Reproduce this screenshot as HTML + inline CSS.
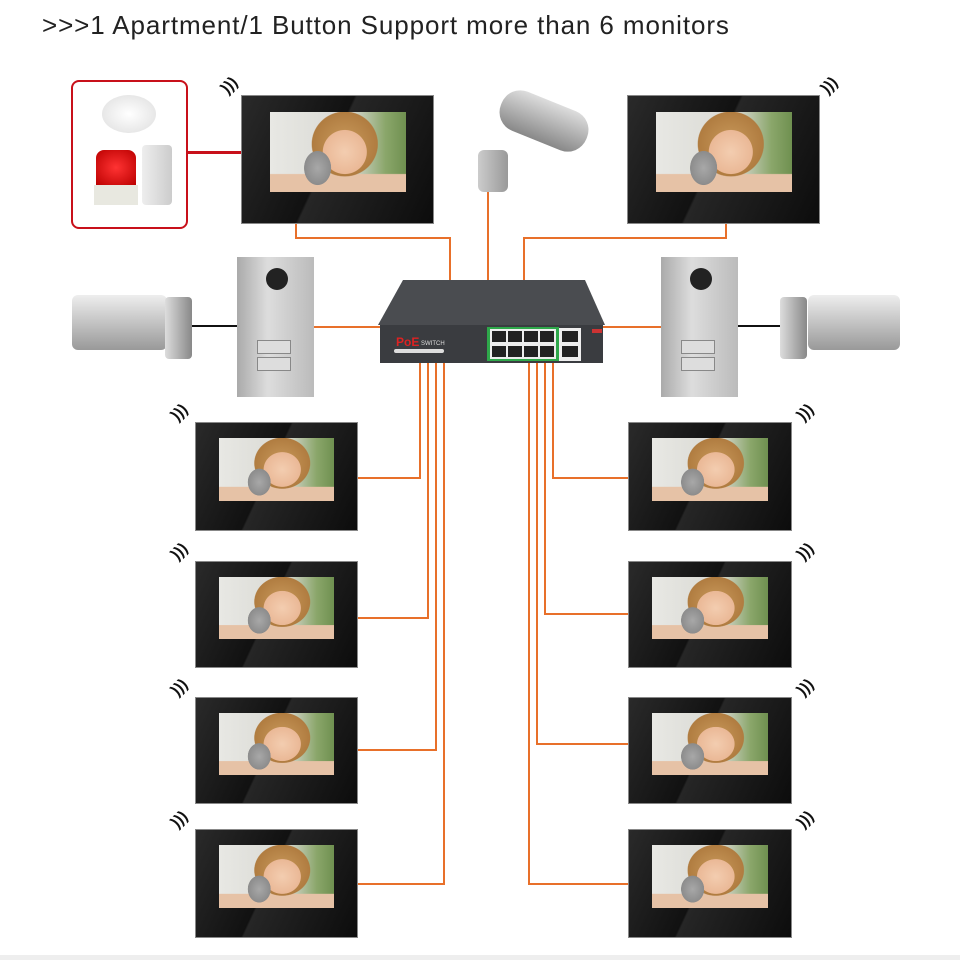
<!DOCTYPE html>
<html><head><meta charset="utf-8"><style>
body{margin:0;width:960px;height:960px;background:#fff;position:relative;overflow:hidden;font-family:"Liberation Sans",sans-serif}
.a{position:absolute}
.mon{position:absolute;background:linear-gradient(115deg,#2a2a2a 0%,#111 45%,#262626 46%,#0c0c0c 100%);border:1px solid #888;box-sizing:border-box}
.scr{position:absolute;left:14.5%;top:14%;width:71%;height:59%;
background:
radial-gradient(ellipse 14% 30% at 35% 70%,#a8a8a8 0%,#8c8c8c 70%,transparent 72%),
radial-gradient(ellipse 20% 34% at 55% 50%,#f3cdb0 0%,#eab896 80%,transparent 82%),
radial-gradient(ellipse 30% 50% at 55% 40%,#c99a5c 0%,#b07c40 80%,transparent 82%),
linear-gradient(0deg,#e6c2a6 0%,#e6c2a6 22%,transparent 23%),
linear-gradient(90deg,#e8e8e4 0%,#d8d8d2 60%,#8aa66a 85%,#6f9050 100%)}
.ln{position:absolute;background:#e8702a}
.wf{position:absolute;font-size:16px;font-weight:bold;color:#111;line-height:1;transform:rotate(-45deg)}
</style></head><body>
<div class="a" style="left:42px;top:10px;font-size:26px;color:#222;letter-spacing:0.9px;white-space:nowrap">&gt;&gt;&gt;1 Apartment/1 Button Support more than 6 monitors</div>

<div class="ln" style="left:188px;top:151px;width:53px;height:3px;background:#c8101a"></div>
<div class="ln" style="left:295px;top:224px;width:2px;height:15px"></div>
<div class="ln" style="left:295px;top:237px;width:156px;height:2px"></div>
<div class="ln" style="left:449px;top:237px;width:2px;height:44px"></div>
<div class="ln" style="left:487px;top:192px;width:2px;height:89px"></div>
<div class="ln" style="left:725px;top:224px;width:2px;height:15px"></div>
<div class="ln" style="left:523px;top:237px;width:204px;height:2px"></div>
<div class="ln" style="left:523px;top:237px;width:2px;height:44px"></div>
<div class="ln" style="left:314px;top:326px;width:66px;height:2px"></div>
<div class="ln" style="left:603px;top:326px;width:58px;height:2px"></div>
<div class="ln" style="left:192px;top:325px;width:46px;height:2px;background:#111"></div>
<div class="ln" style="left:738px;top:325px;width:44px;height:2px;background:#111"></div>

<div class="ln" style="left:419px;top:363px;width:2px;height:116px"></div>
<div class="ln" style="left:358px;top:477px;width:63px;height:2px"></div>
<div class="ln" style="left:427px;top:363px;width:2px;height:256px"></div>
<div class="ln" style="left:358px;top:617px;width:71px;height:2px"></div>
<div class="ln" style="left:435px;top:363px;width:2px;height:388px"></div>
<div class="ln" style="left:358px;top:749px;width:79px;height:2px"></div>
<div class="ln" style="left:443px;top:363px;width:2px;height:522px"></div>
<div class="ln" style="left:358px;top:883px;width:87px;height:2px"></div>

<div class="ln" style="left:552px;top:363px;width:2px;height:116px"></div>
<div class="ln" style="left:552px;top:477px;width:77px;height:2px"></div>
<div class="ln" style="left:544px;top:363px;width:2px;height:252px"></div>
<div class="ln" style="left:544px;top:613px;width:85px;height:2px"></div>
<div class="ln" style="left:536px;top:363px;width:2px;height:382px"></div>
<div class="ln" style="left:536px;top:743px;width:93px;height:2px"></div>
<div class="ln" style="left:528px;top:363px;width:2px;height:522px"></div>
<div class="ln" style="left:528px;top:883px;width:101px;height:2px"></div>

<div class="a" style="left:71px;top:80px;width:117px;height:149px;border:2px solid #c8101a;border-radius:8px;box-sizing:border-box"></div>
<div class="a" style="left:102px;top:95px;width:54px;height:38px;border-radius:50%;background:radial-gradient(#fff,#ddd)"></div>
<div class="a" style="left:96px;top:150px;width:40px;height:35px;border-radius:8px 8px 0 0;background:radial-gradient(#f33,#b00)"></div>
<div class="a" style="left:94px;top:185px;width:44px;height:20px;background:#e8e8e0"></div>
<div class="a" style="left:142px;top:145px;width:30px;height:60px;border-radius:4px;background:linear-gradient(90deg,#eee,#ccc)"></div>

<div class="a" style="left:498px;top:100px;width:92px;height:42px;border-radius:20px;background:linear-gradient(#ddd,#888);transform:rotate(22deg)"></div>
<div class="a" style="left:478px;top:150px;width:30px;height:42px;border-radius:6px;background:linear-gradient(90deg,#ccc,#999)"></div>

<div class="mon" style="left:241px;top:95px;width:193px;height:129px"></div>
<div class="mon" style="left:627px;top:95px;width:193px;height:129px"></div>
<div class="a" style="left:270px;top:112px;width:136px;height:80px"><div class="scr" style="left:0;top:0;width:100%;height:100%"></div></div>
<div class="a" style="left:656px;top:112px;width:136px;height:80px"><div class="scr" style="left:0;top:0;width:100%;height:100%"></div></div>

<div class="a" style="left:237px;top:257px;width:77px;height:140px;background:linear-gradient(90deg,#aaa,#ddd 40%,#bbb)"></div>
<div class="a" style="left:266px;top:268px;width:22px;height:22px;border-radius:50%;background:#222"></div>
<div class="a" style="left:257px;top:340px;width:32px;height:12px;background:#ddd;border:1px solid #888"></div>
<div class="a" style="left:257px;top:357px;width:32px;height:12px;background:#ddd;border:1px solid #888"></div>
<div class="a" style="left:661px;top:257px;width:77px;height:140px;background:linear-gradient(90deg,#aaa,#ddd 40%,#bbb)"></div>
<div class="a" style="left:690px;top:268px;width:22px;height:22px;border-radius:50%;background:#222"></div>
<div class="a" style="left:681px;top:340px;width:32px;height:12px;background:#ddd;border:1px solid #888"></div>
<div class="a" style="left:681px;top:357px;width:32px;height:12px;background:#ddd;border:1px solid #888"></div>

<div class="a" style="left:72px;top:295px;width:95px;height:55px;border-radius:6px;background:linear-gradient(#eee,#999)"></div>
<div class="a" style="left:165px;top:297px;width:27px;height:62px;border-radius:4px;background:linear-gradient(90deg,#ddd,#888)"></div>
<div class="a" style="left:808px;top:295px;width:92px;height:55px;border-radius:6px;background:linear-gradient(#eee,#999)"></div>
<div class="a" style="left:780px;top:297px;width:27px;height:62px;border-radius:4px;background:linear-gradient(90deg,#ddd,#888)"></div>

<svg class="a" style="left:0;top:0" width="960" height="960">
<polygon points="403,280 585,280 605,325 378,325" fill="#4a4c50"/>
<rect x="380" y="325" width="223" height="38" fill="#3a3c40"/>
<rect x="487" y="327" width="72" height="34" fill="#2ea84a"/>
<rect x="490" y="329" width="66" height="30" fill="#eee"/>
<g fill="#222"><rect x="492" y="331" width="14" height="11"/><rect x="508" y="331" width="14" height="11"/><rect x="524" y="331" width="14" height="11"/><rect x="540" y="331" width="14" height="11"/>
<rect x="492" y="346" width="14" height="11"/><rect x="508" y="346" width="14" height="11"/><rect x="524" y="346" width="14" height="11"/><rect x="540" y="346" width="14" height="11"/></g>
<rect x="559" y="328" width="22" height="33" fill="#eee"/>
<rect x="562" y="331" width="16" height="11" fill="#222"/><rect x="562" y="346" width="16" height="11" fill="#222"/>
<rect x="592" y="329" width="10" height="4" fill="#c33"/>
<text x="396" y="346" font-family="Liberation Sans" font-size="12" fill="#d22" font-weight="bold">PoE</text>
<text x="421" y="345" font-family="Liberation Sans" font-size="6" fill="#ddd">SWITCH</text>
<rect x="394" y="349" width="50" height="4" rx="2" fill="#ddd"/>
</svg>

<div class="mon" style="left:195px;top:422px;width:163px;height:109px"><div class="scr"></div></div>
<div class="mon" style="left:195px;top:561px;width:163px;height:107px"><div class="scr"></div></div>
<div class="mon" style="left:195px;top:697px;width:163px;height:107px"><div class="scr"></div></div>
<div class="mon" style="left:195px;top:829px;width:163px;height:109px"><div class="scr"></div></div>
<div class="mon" style="left:628px;top:422px;width:164px;height:109px"><div class="scr"></div></div>
<div class="mon" style="left:628px;top:561px;width:164px;height:107px"><div class="scr"></div></div>
<div class="mon" style="left:628px;top:697px;width:164px;height:107px"><div class="scr"></div></div>
<div class="mon" style="left:628px;top:829px;width:164px;height:109px"><div class="scr"></div></div>

<div class="wf" style="left:222px;top:78px">)))</div>
<div class="wf" style="left:822px;top:78px">)))</div>
<div class="wf" style="left:172px;top:405px">)))</div>
<div class="wf" style="left:172px;top:544px">)))</div>
<div class="wf" style="left:172px;top:680px">)))</div>
<div class="wf" style="left:172px;top:812px">)))</div>
<div class="wf" style="left:798px;top:405px">)))</div>
<div class="wf" style="left:798px;top:544px">)))</div>
<div class="wf" style="left:798px;top:680px">)))</div>
<div class="wf" style="left:798px;top:812px">)))</div>
<div class="a" style="left:0;top:955px;width:960px;height:5px;background:#eee"></div>
</body></html>
